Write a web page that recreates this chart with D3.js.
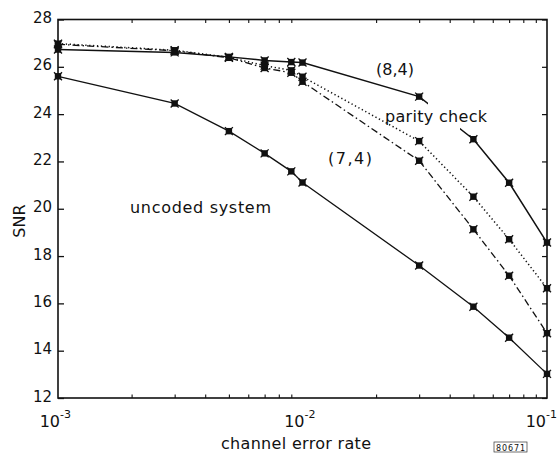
<!DOCTYPE html>
<html>
<head>
<meta charset="utf-8">
<script src="https://cdn.jsdelivr.net/npm/d3@7/dist/d3.min.js"></script>
<style>
  html, body { margin: 0; padding: 0; background: #fff; }
  svg { display: block; }
  text { font-family: "DejaVu Sans", sans-serif; fill: #111; }
</style>
</head>
<body>
<script>
// ---- data ----
const errorRates = [1e-3, 3e-3, 5e-3, 7e-3, 9e-3, 1e-2, 3e-2, 5e-2, 7e-2, 1e-1];
const uncoded    = [25.6, 24.45, 23.28, 22.34, 21.58, 21.11, 17.6, 15.86, 14.55, 13.02];
const hamming74  = [26.95, 26.68, 26.38, 25.95, 25.75, 25.37, 22.03, 19.13, 17.17, 14.74];
const parity     = [26.98, 26.7, 26.4, 26.05, 25.85, 25.58, 22.86, 20.51, 18.71, 16.64];
const code84     = [26.73, 26.61, 26.42, 26.27, 26.2, 26.18, 24.74, 22.94, 21.1, 18.57];
const yTicks = [12, 14, 16, 18, 20, 22, 24, 26, 28];
const xMajor = [1e-3, 1e-2, 1e-1];
const xMajorLabels = [["10", "-3"], ["10", "-2"], ["10", "-1"]];
const xMinor = [2e-3,3e-3,4e-3,5e-3,6e-3,7e-3,8e-3,9e-3,2e-2,3e-2,4e-2,5e-2,6e-2,7e-2,8e-2,9e-2];

const W = 559, H = 454;
const L = 58, R = 547, T = 19.5, B = 398;

const svg = d3.select("body").append("svg").attr("width", W).attr("height", H);

const x = d3.scaleLog().domain([1e-3, 1e-1]).range([L, R]);
const y = d3.scaleLinear().domain([12, 28]).range([B, T]);

// frame
svg.append("rect").attr("x", L).attr("y", T).attr("width", R - L).attr("height", B - T)
  .attr("fill", "none").attr("stroke", "#111").attr("stroke-width", 1.6);

// left axis
const gl = svg.append("g").attr("transform", `translate(${L},0)`)
  .call(d3.axisLeft(y).tickValues(yTicks).tickSize(-6).tickPadding(6).tickFormat(d3.format("d")));
gl.select(".domain").remove();
gl.selectAll("line").attr("stroke", "#111").attr("stroke-width", 1.3);
gl.selectAll("text").style("font-size", "15px").attr("dy", "0.2em").attr("fill", "#111");

// right axis ticks
const gr = svg.append("g").attr("transform", `translate(${R},0)`)
  .call(d3.axisRight(y).tickValues(yTicks).tickSize(-5).tickFormat(""));
gr.select(".domain").remove();
gr.selectAll("line").attr("stroke", "#111").attr("stroke-width", 1.2);

// bottom & top axes ticks
function xTicks(g, axis, vals, size) {
  const a = g.call(axis(x).tickValues(vals).tickSize(size).tickFormat(""));
  a.select(".domain").remove();
  a.selectAll("line").attr("stroke", "#111").attr("stroke-width", 1.1);
}
xTicks(svg.append("g").attr("transform", `translate(0,${B})`), d3.axisBottom, xMinor, -3.5);
xTicks(svg.append("g").attr("transform", `translate(0,${T})`), d3.axisTop, xMinor, -3.5);

// x tick labels with superscripts
const xl = svg.append("g");
xMajor.forEach((v, i) => {
  const ax = Math.min(x(v) + 2, W - 13);
  xl.append("text").attr("x", ax).attr("y", 427)
    .attr("text-anchor", "end").style("font-size", "16px").text(xMajorLabels[i][0]);
  xl.append("text").attr("x", ax).attr("y", 418)
    .style("font-size", "11px").text(xMajorLabels[i][1]);
});

// axis titles
svg.append("text").attr("x", 296).attr("y", 449).attr("text-anchor", "middle")
  .style("font-size", "16px").attr("textLength", 150).text("channel error rate");
svg.append("text").attr("transform", "translate(25,221) rotate(-90)").attr("text-anchor", "middle")
  .style("font-size", "16px").text("SNR");

// series
const line = d3.line().x(d => x(d[0])).y(d => y(d[1]));
const series = [
  { vals: uncoded, dash: null, w: 1.3 },
  { vals: hamming74, dash: "7,3,1.5,3", w: 1.3 },
  { vals: parity, dash: "1.3,2.6", w: 1.5 },
  { vals: code84, dash: null, w: 1.5 },
];
series.forEach(s => {
  const pts = errorRates.map((e, i) => [e, s.vals[i]]);
  svg.append("path").datum(pts).attr("d", line).attr("fill", "none")
    .attr("stroke", "#111").attr("stroke-width", s.w)
    .attr("stroke-dasharray", s.dash);
});

// labels
svg.append("text").attr("x", 130).attr("y", 213).style("font-size", "16px")
  .attr("textLength", 141).text("uncoded system");
svg.append("text").attr("x", 328).attr("y", 164).style("font-size", "16px")
  .attr("textLength", 44).text("(7,4)");
svg.append("text").attr("x", 376).attr("y", 75).style("font-size", "16px")
  .attr("textLength", 38).text("(8,4)");
// gap in the (8,4) curve around the "parity check" label
svg.append("rect").attr("x", 428).attr("y", 98).attr("width", 32).attr("height", 34).attr("fill", "#fff");
svg.append("text").attr("x", 385).attr("y", 122).style("font-size", "16px")
  .attr("textLength", 102).text("parity check");

// markers
const markerData = [];
series.forEach(s => errorRates.forEach((e, i) => markerData.push([e, s.vals[i]])));
const mk = svg.append("g").selectAll("g").data(markerData).join("g")
  .attr("transform", d => `translate(${x(d[0])},${y(d[1])})`);
mk.append("rect").attr("x", -3.2).attr("y", -3.2).attr("width", 6.4).attr("height", 6.4).attr("fill", "#111");
mk.append("path").attr("d", "M-4,-4L4,4M-4,4L4,-4").attr("stroke", "#111").attr("stroke-width", 1.3);

// reference tag
svg.append("rect").attr("x", 494).attr("y", 442).attr("width", 33).attr("height", 10)
  .attr("fill", "none").attr("stroke", "#333").attr("stroke-width", 0.7);
svg.append("text").attr("x", 510.5).attr("y", 450.5).attr("text-anchor", "middle")
  .style("font-size", "8px").attr("textLength", 29).text("80671");
</script>
</body>
</html>
